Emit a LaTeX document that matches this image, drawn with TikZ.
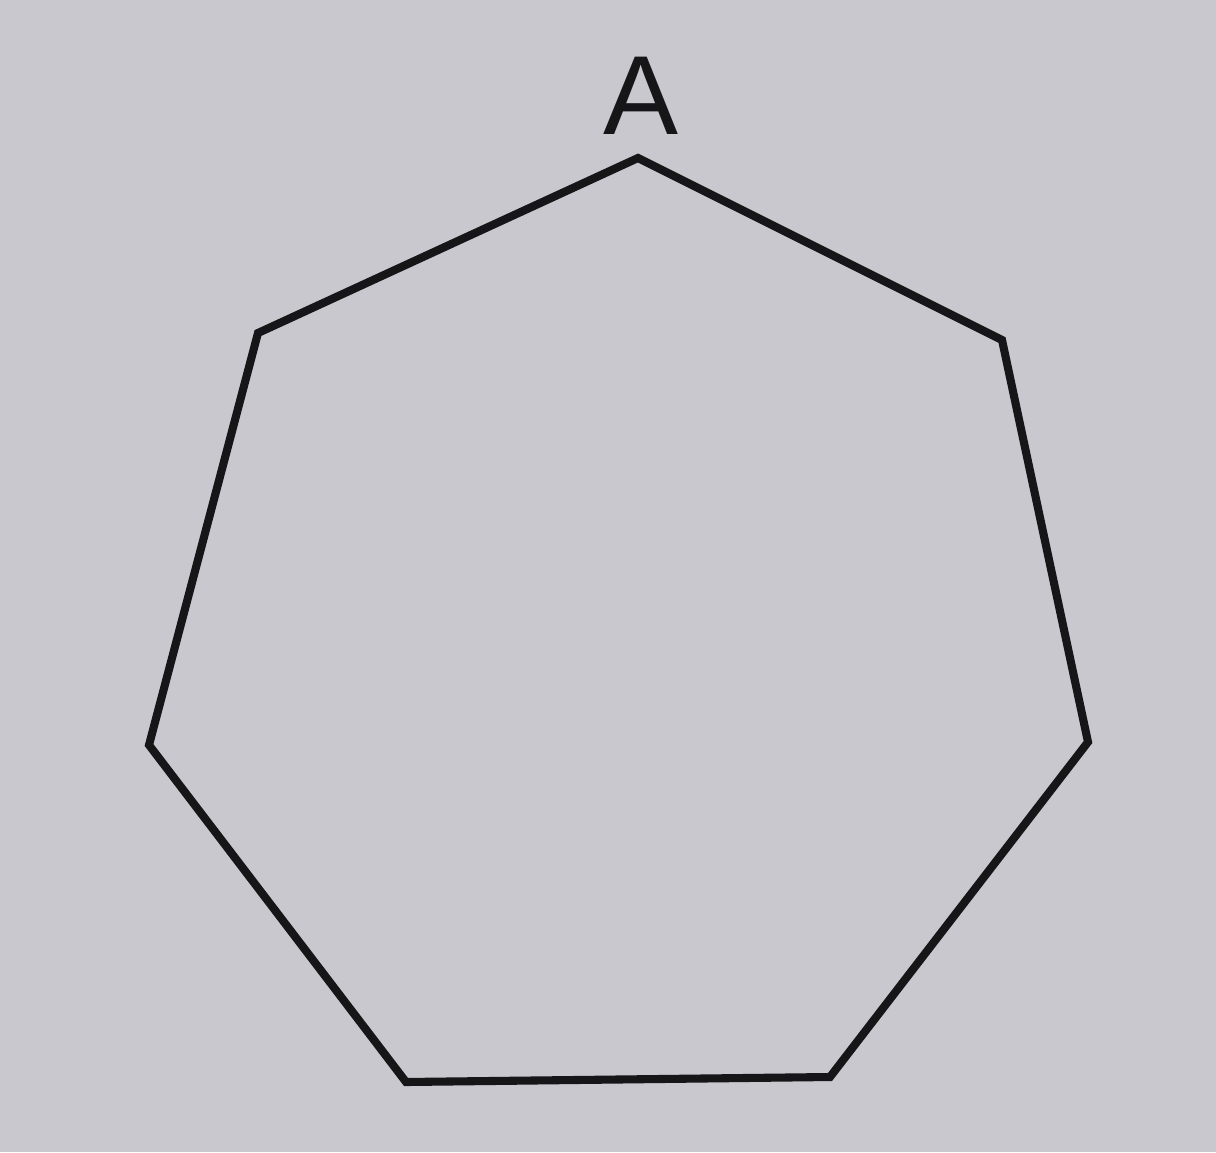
\documentclass[tikz,border=0pt]{standalone}
\usepackage{fontspec}
\setmainfont{Liberation Sans}
\usetikzlibrary{positioning}

\definecolor{paper}{RGB}{200,200,206}
\definecolor{ink}{RGB}{22,22,24}

\begin{document}
\begin{tikzpicture}[
    x=0.02cm, y=-0.02cm,
    edge/.style={
        draw=ink,
        line width=4.6pt,
        line join=miter
    },
    vlabel/.style={
        text=ink,
        inner sep=0pt,
        font=\fontsize{64}{70}\selectfont
    }
]

% Paper
\fill[paper] (0,0) rectangle (1216,1152);
\useasboundingbox (0,0) rectangle (1216,1152);

% Corners of the heptagon
\coordinate (vA) at (638,158);
\coordinate (v2) at (1002,340);
\coordinate (v3) at (1088,742);
\coordinate (v4) at (830,1077);
\coordinate (v5) at (406,1082);
\coordinate (v6) at (149,745);
\coordinate (v7) at (258,333);

% Label
\node[vlabel, anchor=base] (labA) at (641,135) {A};

% Sides
\draw[edge] (vA) -- (v2) -- (v3) -- (v4) -- (v5) -- (v6) -- (v7) -- cycle;

\end{tikzpicture}
\end{document}
